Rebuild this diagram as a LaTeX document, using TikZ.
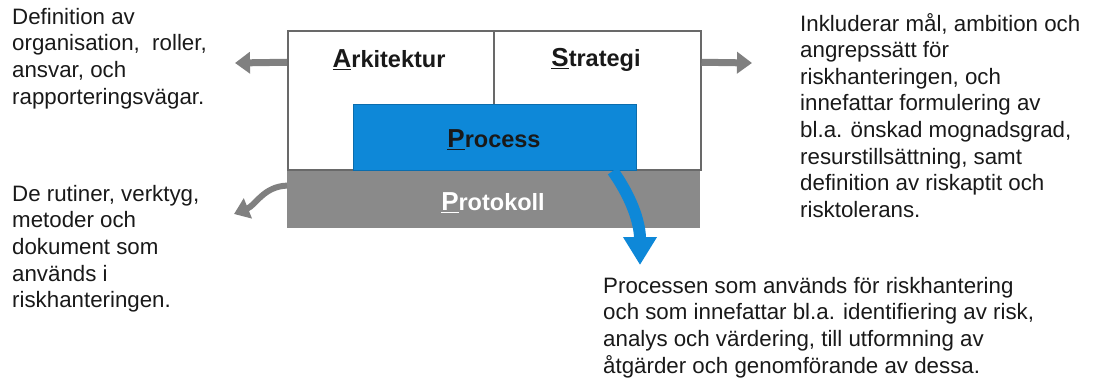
\documentclass[tikz,border=0pt]{standalone}
\usepackage{fontspec}
\setmainfont{Liberation Sans}
\usetikzlibrary{arrows.meta,calc}
\definecolor{procblue}{RGB}{14,136,216}
\definecolor{protgray}{RGB}{138,138,138}
\definecolor{arrgray}{RGB}{128,128,128}
\definecolor{edgegray}{RGB}{105,105,105}
\definecolor{txt}{RGB}{25,25,25}
\newcommand{\Ttl}[2]{\underline{\fontsize{26}{26}\selectfont #1}\fontsize{23.5}{23.5}\selectfont #2}
\begin{document}
\begin{tikzpicture}[x=1pt,y=1pt,
  whitebox/.style={draw=edgegray,line width=1.5pt,fill=white,inner sep=0pt,anchor=south west},
  bluebox/.style={fill=procblue,draw=procblue!80!black,line width=0.8pt,inner sep=0pt,anchor=south west},
  graybox/.style={fill=protgray,inner sep=0pt,anchor=south west},
  title/.style={font=\bfseries,text=txt,inner sep=0pt},
  desc/.style={font=\fontsize{22.3}{26.6}\selectfont,text=txt,align=left,anchor=north west,inner sep=0pt},
  grayarr/.style={draw=arrgray,line width=7pt,-{Triangle[length=15pt,width=21pt]}},
  bluearr/.style={draw=procblue,line width=12pt,-{Triangle[length=28pt,width=32pt]}}]
\useasboundingbox (0,0) rectangle (1094,378);
% boxes
\node[whitebox,minimum width=206pt,minimum height=139pt] (arch) at (287,207) {};
\node[whitebox,minimum width=207pt,minimum height=139pt] (strat) at (493,207) {};
\node[graybox,minimum width=413pt,minimum height=57pt] (prot) at (287,150) {};
\node[bluebox,minimum width=283pt,minimum height=66pt] (proc) at (353,207) {};
% titles
\node[title] (archt) at (389,318) {\Ttl{A}{rkitektur}};
\node[title] (stratt) at (596,318) {\Ttl{S}{trategi}};
\node[title] (proct) at (494,238) {\Ttl{P}{rocess}};
\node[title,text=white] (prott) at (493,175) {\Ttl{P}{rotokoll}};
% connector ends
\coordinate (ltip) at (235,315);
\coordinate (rtip) at (752,315);
\coordinate (ctip) at (234,164);
\coordinate (btip) at (640,113);
% arrows
\draw[grayarr] ([yshift=38.5pt]arch.west) -- (ltip);
\draw[grayarr] ([yshift=38.5pt]strat.east) -- (rtip);
\draw[grayarr,line width=6pt] ([yshift=-15pt]prot.north west) to[out=182,in=22] (ctip);
\draw[bluearr] ([xshift=-24pt]proc.south east) to[out=-55,in=90] (btip);
% descriptions
\node[desc] (d1) at (12,370) {Definition av\\organisation,\ \ roller,\\ansvar, och\\rapporteringsvägar.};
\node[desc] (d2) at (12,193) {De rutiner, verktyg,\\metoder och\\dokument som\\används i\\riskhanteringen.};
\node[desc] (d3) at (800,365) {Inkluderar mål, ambition och\\angrepssätt för\\riskhanteringen, och\\innefattar formulering av\\bl.a. önskad mognadsgrad,\\resurstillsättning, samt\\definition av riskaptit och\\risktolerans.};
\node[desc] (d4) at (603,101) {Processen som används för riskhantering\\och som innefattar bl.a. identifiering av risk,\\analys och värdering, till utformning av\\åtgärder och genomförande av dessa.};
\end{tikzpicture}
\end{document}
